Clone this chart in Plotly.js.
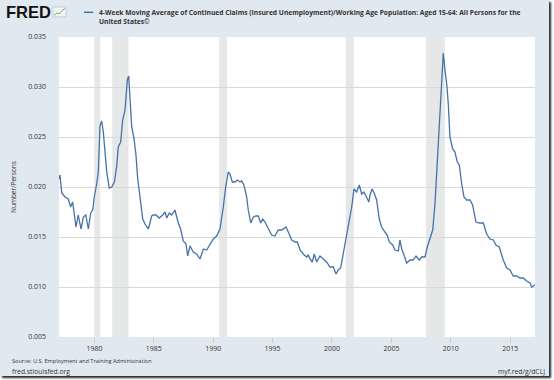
<!DOCTYPE html>
<html>
<head>
<meta charset="utf-8">
<script src="https://cdn.plot.ly/plotly-3.0.1.min.js"></script>
<style>
  html, body { margin: 0; padding: 0; background: #ffffff; }
  #wrap { position: relative; width: 554px; height: 380px; background: #ffffff; }
  #chart { position: absolute; left: 0; top: 0; width: 549px; height: 376px;
           box-shadow: 2px 2px 2px rgba(0,0,0,0.85); }
</style>
</head>
<body>
<div id="wrap"><div id="chart"></div></div>
<script>
// Decimal years
const dates = [
  1977.02,1977.10,1977.25,1977.53,1977.80,1978.00,1978.17,1978.28,1978.45,1978.64,
  1978.87,1979.07,1979.27,1979.49,1979.69,1979.86,1979.99,1980.19,1980.33,1980.47,
  1980.61,1980.75,1980.89,1981.04,1981.25,1981.46,1981.68,1981.88,1982.01,1982.21,
  1982.38,1982.58,1982.77,1982.89,1983.00,1983.14,1983.33,1983.50,1983.64,1983.84,
  1984.07,1984.26,1984.54,1984.82,1984.96,1985.19,1985.46,1985.75,1985.94,1986.09,
  1986.30,1986.51,1986.78,1987.06,1987.26,1987.48,1987.71,1987.85,1988.05,1988.32,
  1988.61,1988.89,1989.17,1989.45,1989.73,1990.01,1990.29,1990.57,1990.85,1991.05,
  1991.27,1991.41,1991.61,1991.84,1992.03,1992.26,1992.40,1992.59,1992.82,1992.95,
  1993.16,1993.38,1993.60,1993.80,1994.00,1994.17,1994.36,1994.64,1994.92,1995.20,
  1995.48,1995.77,1995.90,1996.13,1996.32,1996.61,1996.89,1997.08,1997.31,1997.58,
  1997.87,1998.01,1998.15,1998.34,1998.51,1998.71,1998.99,1999.27,1999.55,1999.83,
  2000.11,2000.34,2000.53,2000.73,2000.95,2001.24,2001.52,2001.66,2001.85,2002.08,
  2002.30,2002.50,2002.69,2002.92,2003.11,2003.20,2003.38,2003.55,2003.76,2003.98,
  2004.18,2004.46,2004.65,2004.82,2005.11,2005.30,2005.58,2005.72,2005.87,2006.06,
  2006.29,2006.57,2006.84,2007.07,2007.35,2007.55,2007.83,2008.02,2008.25,2008.48,
  2008.67,2008.90,2009.09,2009.26,2009.37,2009.51,2009.66,2009.79,2009.93,2010.16,
  2010.35,2010.55,2010.72,2010.92,2011.11,2011.34,2011.62,2011.84,2012.12,2012.40,
  2012.74,2013.02,2013.30,2013.58,2013.80,2014.08,2014.42,2014.71,2014.98,2015.26,
  2015.55,2015.82,2016.10,2016.39,2016.67,2016.81,2016.95,2017.09
];
const claims = [
  0.0208,0.0212,0.0194,0.0190,0.0188,0.0180,0.0185,0.0175,0.0160,0.0172,
  0.0158,0.0170,0.0172,0.0158,0.0174,0.0177,0.0190,0.0203,0.0215,0.0261,
  0.0266,0.0255,0.0235,0.0215,0.0199,0.0200,0.0205,0.0221,0.0240,0.0245,
  0.0267,0.0277,0.0307,0.0311,0.0288,0.0260,0.0249,0.0232,0.0209,0.0189,
  0.0168,0.0163,0.0158,0.0171,0.0172,0.0172,0.0169,0.0172,0.0175,0.0169,
  0.0174,0.0172,0.0177,0.0164,0.0158,0.0146,0.0143,0.0131,0.0141,0.0135,
  0.0133,0.0128,0.0138,0.0137,0.0143,0.0148,0.0151,0.0158,0.0180,0.0200,
  0.0215,0.0213,0.0205,0.0205,0.0207,0.0205,0.0206,0.0202,0.0190,0.0177,
  0.0164,0.0170,0.0171,0.0171,0.0164,0.0168,0.0165,0.0159,0.0152,0.0151,
  0.0157,0.0157,0.0158,0.0160,0.0155,0.0147,0.0145,0.0145,0.0137,0.0133,
  0.0130,0.0132,0.0128,0.0125,0.0133,0.0125,0.0131,0.0128,0.0125,0.0120,
  0.0120,0.0113,0.0117,0.0119,0.0133,0.0155,0.0172,0.0180,0.0198,0.0195,
  0.0202,0.0193,0.0195,0.0190,0.0185,0.0192,0.0198,0.0194,0.0187,0.0168,
  0.0160,0.0155,0.0152,0.0145,0.0142,0.0137,0.0136,0.0147,0.0138,0.0132,
  0.0124,0.0127,0.0127,0.0131,0.0127,0.0130,0.0130,0.0140,0.0148,0.0157,
  0.0183,0.0233,0.0280,0.0320,0.0334,0.0317,0.0303,0.0283,0.0250,0.0238,
  0.0235,0.0225,0.0222,0.0203,0.0190,0.0187,0.0187,0.0182,0.0165,0.0164,
  0.0164,0.0153,0.0148,0.0147,0.0142,0.0140,0.0127,0.0119,0.0117,0.0111,
  0.0111,0.0109,0.0109,0.0106,0.0104,0.0100,0.0101,0.0102
];
// Recession periods (decimal years)
const recStart = [1980.0, 1981.5, 1990.5, 2001.17, 2007.92];
const recEnd   = [1980.5, 1982.87, 1991.17, 2001.83, 2009.5];
const xTicks = [1980, 1985, 1990, 1995, 2000, 2005, 2010, 2015];
const xTickText = ['1980', '1985', '1990', '1995', '2000', '2005', '2010', '2015'];
const yTicks = [0.005, 0.010, 0.015, 0.020, 0.025, 0.030, 0.035];
const yTickText = ['0.005', '0.010', '0.015', '0.020', '0.025', '0.030', '0.035'];

const seriesName = '4-Week Moving Average of Continued Claims (Insured Unemployment)/Working Age Population: Aged 15-64: All Persons for the';
const seriesName2 = 'United States©';

const FONT = 'Open Sans, Noto Sans, sans-serif';
const TXT = '#333333';

const shapes = recStart.map((s, i) => ({
  type: 'rect', xref: 'x', yref: 'paper', x0: s, x1: recEnd[i], y0: 0, y1: 1,
  fillcolor: '#e6e7e7', line: { width: 0 }, layer: 'below'
}));

// legend swatch
shapes.push({ type: 'line', xref: 'paper', yref: 'paper',
  x0: 0.0525, x1: 0.0721, y0: 1.0823, y1: 1.0823,
  line: { color: '#4572a7', width: 1.5 } });
// logo icon box
shapes.push({ type: 'rect', xref: 'paper', yref: 'paper',
  x0: -0.0126, x1: 0.0147, y0: 1.067, y1: 1.1,
  fillcolor: '#f2f5f8', line: { color: '#b8c4cf', width: 0.8 } });
shapes.push({ type: 'path', xref: 'paper', yref: 'paper',
  path: 'M -0.0105 1.072 L -0.0042 1.080 L 0.0000 1.077 L 0.0063 1.088 L 0.0126 1.095',
  line: { color: '#7aa95c', width: 1 } });

const annotations = [
  { text: '<b>FRED</b>', xref: 'paper', yref: 'paper', x: (4 - 59) / 476, y: (337 - 12) / 300,
    xanchor: 'left', yanchor: 'middle', showarrow: false,
    font: { family: 'Liberation Sans, Arial, sans-serif', size: 16.5, color: '#111111' } },
  { text: '<b>' + seriesName + '</b>', xref: 'paper', yref: 'paper', x: (96.5 - 59) / 476, y: (337 - 12.3) / 300,
    xanchor: 'left', yanchor: 'middle', showarrow: false,
    font: { family: FONT, size: 6.7, color: TXT } },
  { text: '<b>' + seriesName2 + '</b>', xref: 'paper', yref: 'paper', x: (96.5 - 59) / 476, y: (337 - 22) / 300,
    xanchor: 'left', yanchor: 'middle', showarrow: false,
    font: { family: FONT, size: 6.7, color: TXT } },
  { text: 'Number/Persons', xref: 'paper', yref: 'paper', x: (13 - 59) / 476, y: 0.5,
    xanchor: 'center', yanchor: 'middle', textangle: -90, showarrow: false,
    font: { family: FONT, size: 6.5, color: TXT } },
  { text: 'Source: U.S. Employment and Training Administration', xref: 'paper', yref: 'paper',
    x: (9.5 - 59) / 476, y: (337 - 361.5) / 300, xanchor: 'left', yanchor: 'middle', showarrow: false,
    font: { family: FONT, size: 5.6, color: TXT } },
  { text: 'fred.stlouisfed.org', xref: 'paper', yref: 'paper',
    x: (9.5 - 59) / 476, y: (337 - 371.5) / 300, xanchor: 'left', yanchor: 'middle', showarrow: false,
    font: { family: FONT, size: 6.8, color: TXT } },
  { text: 'myf.red/g/dCLJ', xref: 'paper', yref: 'paper',
    x: (546.5 - 59) / 476, y: (337 - 371.5) / 300, xanchor: 'right', yanchor: 'middle', showarrow: false,
    font: { family: FONT, size: 6.8, color: TXT } }
];

const trace = {
  x: dates, y: claims, type: 'scatter', mode: 'lines',
  line: { color: '#4572a7', width: 1.3 }, hoverinfo: 'skip'
};

const layout = {
  width: 549, height: 376,
  margin: { l: 59, r: 14, t: 37, b: 39 },
  paper_bgcolor: '#e1e9f0', plot_bgcolor: '#ffffff',
  showlegend: false,
  font: { family: FONT, size: 7, color: TXT },
  xaxis: {
    range: [1977.02, 2017.09], tickmode: 'array', tickvals: xTicks, ticktext: xTickText,
    showgrid: false, zeroline: false, showline: false,
    ticks: 'outside', ticklen: 5, tickcolor: '#cccccc', tickwidth: 1,
    tickfont: { family: FONT, size: 7, color: TXT }
  },
  yaxis: {
    range: [0.005, 0.035], tickmode: 'array', tickvals: yTicks, ticktext: yTickText,
    showgrid: true, gridcolor: '#d9d9d9', gridwidth: 1, zeroline: false, showline: false,
    ticks: '', ticklabelstandoff: 12,
    tickfont: { family: FONT, size: 7, color: TXT }
  },
  shapes: shapes,
  annotations: annotations
};

Plotly.newPlot('chart', [trace], layout, { displayModeBar: false, staticPlot: true });
</script>
</body>
</html>
